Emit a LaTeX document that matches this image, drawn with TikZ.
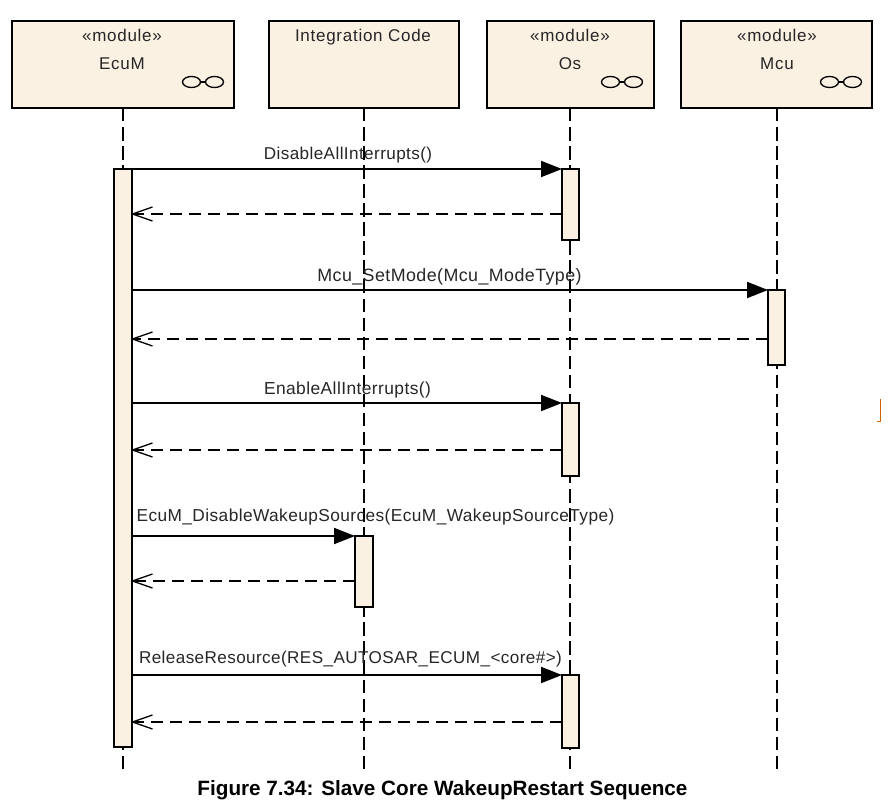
\documentclass[tikz,border=0pt]{standalone}
\usepackage{fontspec}
\setmainfont{Liberation Sans}
\newfontfamily\msgfont[LetterSpace=2.4]{Liberation Sans}
\newfontfamily\headfont[LetterSpace=4.3]{Liberation Sans}
\usetikzlibrary{arrows.meta}
\definecolor{boxfill}{HTML}{FBF1E3}
\begin{document}
\begin{tikzpicture}[
    x=1pt, y=-1pt,
    headbox/.style={rectangle, draw, line width=2.1pt, fill=boxfill, anchor=north west,
                    inner sep=0pt, outer sep=0pt},
    actbox/.style={rectangle, draw, line width=1.9pt, fill=boxfill, anchor=north west,
                   inner sep=0pt, outer sep=0pt, minimum width=17pt},
    hlbl/.style={font=\headfont\fontsize{17}{19}\selectfont, text=black!85, inner sep=0pt, anchor=base},
    lbl/.style={font=\msgfont\fontsize{#1}{19}\selectfont, text=black!85, inner sep=0pt, anchor=base},
    lbl/.default=17,
    life/.style={line width=1.9pt, dash pattern=on 13.5pt off 5.55pt},
    msg/.style={-{Triangle[length=21pt,width=16pt]}, line width=1.9pt},
    ret/.style={-{Straight Barb[length=20pt,width=14pt,line width=1.3pt]}, line width=1.8pt,
                dash pattern=on 12pt off 7pt, shorten >=-1.5pt},
    glasses/.pic={
      \draw[line width=1.3pt] (-11.5,0) ellipse (9pt and 5.5pt);
      \draw[line width=1.3pt] (11.5,0) ellipse (9pt and 5.5pt);
      \draw[line width=1.6pt] (-2.5,0) -- (2.5,0);
    },
  ]
  \useasboundingbox (0,0) rectangle (890,810);

  % --- Lifeline heads ---
  \node[headbox, minimum width=222pt, minimum height=87pt] (ecum) at (12,21) {};
  \node[headbox, minimum width=190pt, minimum height=87pt] (intc) at (269,21) {};
  \node[headbox, minimum width=167pt, minimum height=87pt] (os)   at (487,21) {};
  \node[headbox, minimum width=191pt, minimum height=87pt] (mcu)  at (681,21) {};

  \node[hlbl] (ecumst)  at (122,42) {«module»};
  \node[hlbl] (ecumnm)  at (122,70) {EcuM};
  \node[hlbl] (intcnm)  at (363,42) {Integration Code};
  \node[hlbl] (osst)    at (570,42) {«module»};
  \node[hlbl] (osnm)    at (570,70) {Os};
  \node[hlbl] (mcust)   at (777,42) {«module»};
  \node[hlbl] (mcunm)   at (777,70) {Mcu};

  \pic at (203,82) {glasses};
  \pic at (622,82) {glasses};
  \pic at (841,82) {glasses};

  % --- Lifelines ---
  \coordinate (ecumend) at (123,769);
  \coordinate (intcend) at (364,769);
  \coordinate (osend)   at (570,769);
  \coordinate (mcuend)  at (777,769);
  \draw[life] (ecumend |- ecum.south) -- (ecumend);
  \draw[life] (intcend |- intc.south) -- (intcend);
  \draw[life] (osend |- os.south) -- (osend);
  \draw[life] (mcuend |- mcu.south) -- (mcuend);

  % --- Activations ---
  \node[actbox, minimum height=578pt, minimum width=18pt] (ecumact) at (114,169) {};
  \node[actbox, minimum height=71pt] (osacta) at (562,169) {};
  \node[actbox, minimum height=75pt] (mcuact) at (768,290) {};
  \node[actbox, minimum height=73pt] (osactb) at (562,403) {};
  \node[actbox, minimum height=71pt, minimum width=18pt] (intcact) at (355,536) {};
  \node[actbox, minimum height=73pt] (osactc) at (562,675) {};

  % --- Calls ---
  \draw[msg] (ecumact.east |- osacta.north) -- (osacta.north west);
  \draw[msg] (ecumact.east |- mcuact.north) -- (mcuact.north west);
  \draw[msg] (ecumact.east |- osactb.north) -- (osactb.north west);
  \draw[msg] (ecumact.east |- intcact.north) -- (intcact.north west);
  \draw[msg] (ecumact.east |- osactc.north) -- (osactc.north west);

  \node[lbl=17.1] (calla) at (348,160) {DisableAllInterrupts()};
  \node[lbl=17.85] (callb) at (449.5,281) {Mcu\_SetMode(Mcu\_ModeType)};
  \node[lbl=17.4] (callc) at (347.5,394) {EnableAllInterrupts()};
  \node[lbl=17.3] (calld) at (375.5,521) {EcuM\_DisableWakeupSources(EcuM\_WakeupSourceType)};
  \node[lbl=17.1] (calle) at (350.5,663) {ReleaseResource(RES\_AUTOSAR\_ECUM\_<core\#>)};

  % --- Returns ---
  \coordinate (reta) at (562,214);
  \coordinate (retb) at (768,339);
  \coordinate (retc) at (562,450);
  \coordinate (retd) at (355,581);
  \coordinate (rete) at (562,722);
  \draw[ret] (reta) -- (reta -| ecumact.east);
  \draw[ret] (retb) -- (retb -| ecumact.east);
  \draw[ret] (retc) -- (retc -| ecumact.east);
  \draw[ret] (retd) -- (retd -| ecumact.east);
  \draw[ret] (rete) -- (rete -| ecumact.east);

  % --- Stray mark on the right ---
  \draw[line width=1pt, color=orange!80!black] (877,421) -- (880.5,421) -- (880.5,399);

  \node[font=\bfseries\fontsize{20.7}{23}\selectfont, inner sep=0pt, anchor=base] (caption) at (442.5,795)
    {Figure 7.34: Slave Core WakeupRestart Sequence};
\end{tikzpicture}
\end{document}
